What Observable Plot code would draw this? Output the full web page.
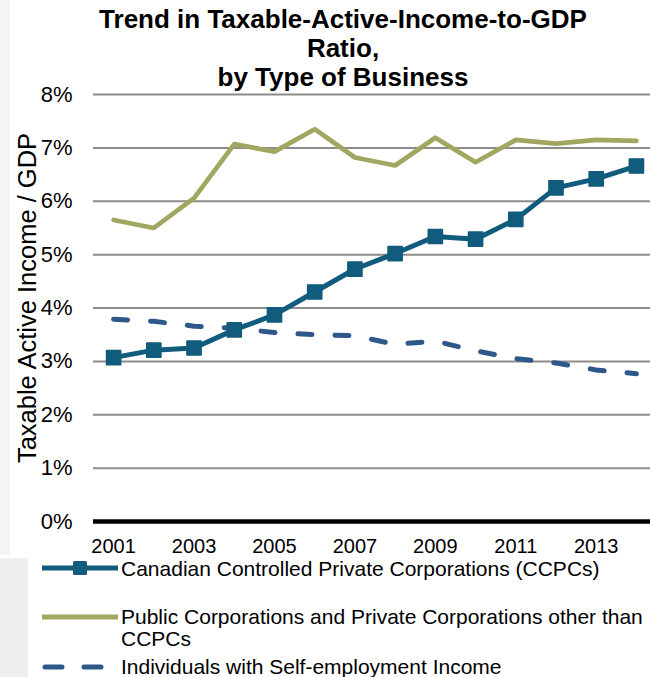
<!DOCTYPE html>
<html><head><meta charset="utf-8">
<script src="https://cdn.jsdelivr.net/npm/d3@7"></script>
<script src="https://cdn.jsdelivr.net/npm/@observablehq/plot@0.6"></script>
<style>
body{margin:0;background:#fff;font-family:"Liberation Sans",Arial,sans-serif;}
#wrap{position:relative;width:650px;height:677px;overflow:hidden;}
#title{position:absolute;left:0;top:5px;width:686px;text-align:center;font-weight:bold;font-size:26px;line-height:29px;color:#000;}
#chart{position:absolute;left:0;top:80px;}
.leg{position:absolute;left:121px;font-size:21px;line-height:22px;color:#000;white-space:nowrap;}
.bg{position:absolute;background:#f4f4f4;}
</style></head><body>
<div id="wrap">
  <div class="bg" style="left:0;top:0;width:10px;height:555px;"></div>
  <div class="bg" style="left:0;top:558px;width:28px;height:119px;background:#efefef;"></div>
  <div id="title">Trend in Taxable-Active-Income-to-GDP<br>Ratio,<br>by Type of Business</div>
  <div id="chart"></div>
  <div id="legend"></div>
</div>
<script>
// ---- data ----
const years = [2001,2002,2003,2004,2005,2006,2007,2008,2009,2010,2011,2012,2013,2014];
const ccpcValues   = [3.07,3.21,3.25,3.59,3.87,4.30,4.73,5.02,5.34,5.29,5.66,6.25,6.42,6.66];
const publicValues = [5.65,5.50,6.06,7.07,6.93,7.35,6.82,6.67,7.19,6.73,7.15,7.08,7.15,7.13];
const selfEmpValues = [3.79,3.75,3.66,3.62,3.54,3.50,3.48,3.32,3.38,3.20,3.05,2.97,2.84,2.77];
const seriesNames = [
  "Canadian Controlled Private Corporations (CCPCs)",
  "Public Corporations and Private Corporations other than\nCCPCs",
  "Individuals with Self-employment Income"
];
const seriesColors = ["#115B7C", "#A1A760", "#2E578A"];
const yTickValues = [0,1,2,3,4,5,6,7,8];
const xTickLabels = ["2001","2003","2005","2007","2009","2011","2013"];
const yAxisLabel = "Taxable Active Income / GDP";

const ccpcRows = years.map((yr,i)=>({year:yr, value:ccpcValues[i]}));
const publicRows = years.map((yr,i)=>({year:yr, value:publicValues[i]}));
const selfRows = years.map((yr,i)=>({year:yr, value:selfEmpValues[i]}));

const chart = Plot.plot({
  width: 650,
  height: 481,
  marginTop: 14,
  marginBottom: 40,
  marginLeft: 93,
  marginRight: 0,
  style: {fontFamily: '"Liberation Sans", Arial, sans-serif', background: "transparent", color: "#000"},
  x: {type: "linear", domain: [2000.5, 2014.35]},
  y: {domain: [0, 8]},
  marks: [
    Plot.ruleY(yTickValues.filter(t => t > 0), {stroke: "#8c8c8c", strokeWidth: 2}),
    Plot.ruleY([0], {stroke: "#000", strokeWidth: 4.5}),
    Plot.axisY({ticks: yTickValues, tickFormat: d => d + "%", tickSize: 0, tickPadding: 21, fontSize: 22, label: null, fill: "#000"}),
    Plot.axisX({ticks: xTickLabels.map(Number), tickFormat: d => String(d), tickSize: 0, tickPadding: 17, fontSize: 20, fontWeight: 400, label: null, fill: "#000"}),
    Plot.text([yAxisLabel], {text: d => d, frameAnchor: "left", rotate: -90, dx: -66, dy: -10, fontSize: 25.5, fill: "#000", textAnchor: "middle", lineAnchor: "middle"}),
    Plot.line(selfRows, {x: "year", y: "value", stroke: seriesColors[2], strokeWidth: 5, strokeDasharray: "14,23", strokeLinecap: "round", strokeLinejoin: "round"}),
    Plot.line(publicRows, {x: "year", y: "value", stroke: seriesColors[1], strokeWidth: 4.7, strokeLinejoin: "round"}),
    Plot.line(ccpcRows, {x: "year", y: "value", stroke: seriesColors[0], strokeWidth: 5, strokeLinejoin: "round"}),
    Plot.dot(ccpcRows, {x: "year", y: "value", symbol: "square", r: 8, fill: seriesColors[0], stroke: seriesColors[0], strokeWidth: 1.5, strokeLinejoin: "round"})
  ]
});
document.getElementById("chart").appendChild(chart);

// ---- legend ----
const legend = document.getElementById("legend");
const rowTops = [558, 606, 656];
const swatchCenters = [568, 617, 667];
seriesNames.forEach((name, i) => {
  const t = document.createElement("div");
  t.className = "leg";
  t.style.top = rowTops[i] + "px";
  t.innerHTML = name.split("\n").join("<br>");
  legend.appendChild(t);
  const svgNS = "http://www.w3.org/2000/svg";
  const s = document.createElementNS(svgNS, "svg");
  s.setAttribute("width", 130);
  s.setAttribute("height", 20);
  s.style.position = "absolute";
  s.style.left = "0px";
  s.style.top = (swatchCenters[i] - 10) + "px";
  const ln = document.createElementNS(svgNS, "line");
  ln.setAttribute("y1", 10); ln.setAttribute("y2", 10);
  ln.setAttribute("stroke", seriesColors[i]);
  ln.setAttribute("stroke-width", 5);
  if (i === 2) {
    ln.setAttribute("x1", 45); ln.setAttribute("x2", 106);
    ln.setAttribute("stroke-dasharray", "17,22");
    ln.setAttribute("stroke-linecap", "round");
  } else {
    ln.setAttribute("x1", 42); ln.setAttribute("x2", 118);
  }
  s.appendChild(ln);
  if (i === 0) {
    const r = document.createElementNS(svgNS, "rect");
    r.setAttribute("x", 73); r.setAttribute("y", 3);
    r.setAttribute("width", 14); r.setAttribute("height", 14);
    r.setAttribute("rx", 1.5);
    r.setAttribute("fill", seriesColors[0]);
    s.appendChild(r);
  }
  legend.appendChild(s);
});
</script>
</body></html>
